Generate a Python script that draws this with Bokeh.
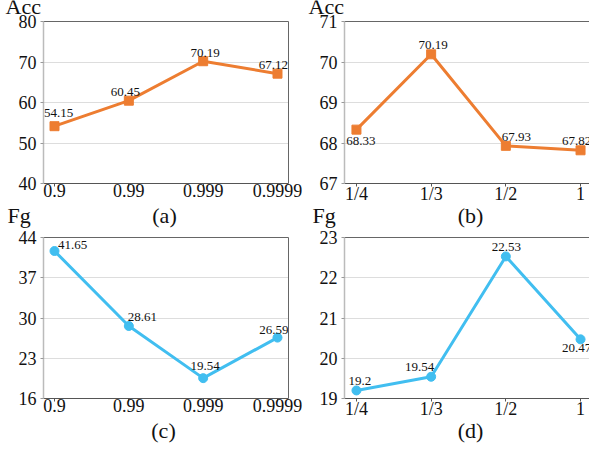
from bokeh.plotting import figure
from bokeh.layouts import column, row
from bokeh.models import Range1d, FixedTicker, LinearAxis, ColumnDataSource
from bokeh.embed import file_html
from bokeh.resources import INLINE
from bokeh.core.properties import value

# ---------------- data ----------------
x_labels_ac = ["0.9", "0.99", "0.999", "0.9999"]
x_labels_bd = ["1/4", "1/3", "1/2", "1"]
acc_a = [54.15, 60.45, 70.19, 67.12]
acc_b = [68.33, 70.19, 67.93, 67.82]
fg_c = [41.65, 28.61, 19.54, 26.59]
fg_d = [19.2, 19.54, 22.53, 20.47]
yticks_a = [40, 50, 60, 70, 80]
yticks_b = [67, 68, 69, 70, 71]
yticks_c = [16, 23, 30, 37, 44]
yticks_d = [19, 20, 21, 22, 23]
y_titles_top = ["Acc", "Acc"]
y_titles_bottom = ["Fg", "Fg"]
captions_top = ["(a)", "(b)"]
captions_bottom = ["(c)", "(d)"]

# label offsets (screen px, centre of text relative to point)
off_a = [(4, -13), (-3.5, -9), (2, -8.5), (-4, -9)]
off_b = [(4.5, 11.5), (2, -9.5), (10.5, -9), (-4, -9)]
off_c = [(18, -6.5), (13.5, -8.5), (2, -12), (-3.5, -8)]
off_d = [(3.5, -9), (-11.5, -10), (0.5, -9), (-4, 9)]

SERIF = "Liberation Serif"
ORANGE = "#ED7D31"
BLUE = "#41BEF0"
TOTAL_W = 589


def border_axis():
    return LinearAxis(ticker=FixedTicker(ticks=[]), axis_line_color="#666666",
                      major_tick_out=0, major_tick_in=0, minor_tick_out=0,
                      minor_tick_in=0, major_label_standoff=0,
                      major_label_text_font_size="0px")


def make_panel(xlabels, yvals, yticks, color, marker, msize, offsets,
               width, height, mb_left, mb_right, mb_top, mb_bottom,
               xr, right_border):
    p = figure(width=width, height=height, output_backend="svg",
               toolbar_location=None, title=None,
               x_range=Range1d(*xr), y_range=Range1d(yticks[0], yticks[-1]))
    p.min_border = 0
    p.min_border_left = mb_left
    p.min_border_right = mb_right
    p.min_border_top = mb_top
    p.min_border_bottom = mb_bottom
    p.outline_line_color = None
    p.background_fill_color = "white"
    p.border_fill_color = "white"

    xs = list(range(len(xlabels)))
    src = ColumnDataSource(dict(
        x=xs, y=yvals, t=[f"{v:g}" for v in yvals],
        dx=[o[0] for o in offsets], dy=[o[1] for o in offsets]))

    p.line("x", "y", source=src, line_width=3, line_color=color)
    p.scatter("x", "y", source=src, marker=marker, size=msize,
              fill_color=color, line_color=color)
    p.text("x", "y", text="t", x_offset="dx", y_offset="dy", source=src,
           text_align="center", text_baseline="middle",
           text_font=value(SERIF), text_font_size="13px", text_color="#111111")

    xa = p.xaxis[0]
    xa.ticker = FixedTicker(ticks=xs)
    xa.major_label_overrides = {i: lab for i, lab in enumerate(xlabels)}
    xa.axis_line_color = "#555555"
    xa.major_tick_line_color = "#555555"
    xa.major_tick_out = 3
    xa.major_tick_in = 0
    xa.minor_tick_line_color = None
    xa.major_label_standoff = -3
    xa.major_label_text_font = SERIF
    xa.major_label_text_font_size = "18px"
    xa.major_label_text_color = "#111111"

    ya = p.yaxis[0]
    ya.ticker = FixedTicker(ticks=yticks)
    ya.axis_line_color = "#bbbbbb"
    ya.axis_line_width = 1.5
    ya.major_tick_line_color = "#999999"
    ya.major_tick_out = 3
    ya.major_tick_in = 0
    ya.minor_tick_line_color = None
    ya.major_label_standoff = 4
    ya.major_label_text_font = SERIF
    ya.major_label_text_font_size = "18px"
    ya.major_label_text_color = "#111111"

    p.xgrid.visible = False
    p.ygrid.ticker = FixedTicker(ticks=yticks)
    p.ygrid.grid_line_color = "#dddddd"
    p.ygrid.grid_line_width = 1

    p.add_layout(border_axis(), "above")
    if right_border:
        p.add_layout(border_axis(), "right")
    return p


def make_strip(height, texts, xs, ys, aligns):
    s = figure(width=TOTAL_W, height=height, output_backend="svg",
               toolbar_location=None, title=None,
               x_axis_type=None, y_axis_type=None,
               x_range=Range1d(0, TOTAL_W), y_range=Range1d(height, 0))
    s.min_border = 0
    s.outline_line_color = None
    s.xgrid.visible = False
    s.ygrid.visible = False
    s.background_fill_color = "white"
    s.border_fill_color = "white"
    src = ColumnDataSource(dict(x=xs, y=ys, t=texts, a=aligns))
    s.text("x", "y", text="t", text_align="a", source=src,
           text_baseline="middle", text_font=value(SERIF),
           text_font_size="22px", text_color="#111111")
    return s


strip0 = make_strip(14, y_titles_top, [5, 308], [5.6, 5.6], ["left", "left"])
strip1 = make_strip(23, [captions_top[0], y_titles_bottom[0],
                         captions_top[1], y_titles_bottom[1]],
                    [164, 7, 470, 312], [8.6, 8.6, 8.6, 8.6],
                    ["center", "left", "center", "left"])
strip2 = make_strip(28, captions_bottom, [163, 470], [8.6, 8.6],
                    ["center", "center"])

pa = make_panel(x_labels_ac, acc_a, yticks_a, ORANGE, "square", 9, off_a,
                303, 192, 43, 15, 7, 21, (-0.148, 3.148), True)
pb = make_panel(x_labels_bd, acc_b, yticks_b, ORANGE, "square", 9, off_b,
                286, 192, 41, 0, 7, 21, (-0.16, 3.12), False)
pc = make_panel(x_labels_ac, fg_c, yticks_c, BLUE, "circle", 9, off_c,
                303, 192, 43, 15, 8, 21, (-0.148, 3.148), True)
pd = make_panel(x_labels_bd, fg_d, yticks_d, BLUE, "circle", 9, off_d,
                286, 192, 41, 0, 8, 21, (-0.16, 3.12), False)

layout = column(strip0, row(pa, pb), strip1, row(pc, pd), strip2)

open("out.html", "w").write(file_html(layout, INLINE))
